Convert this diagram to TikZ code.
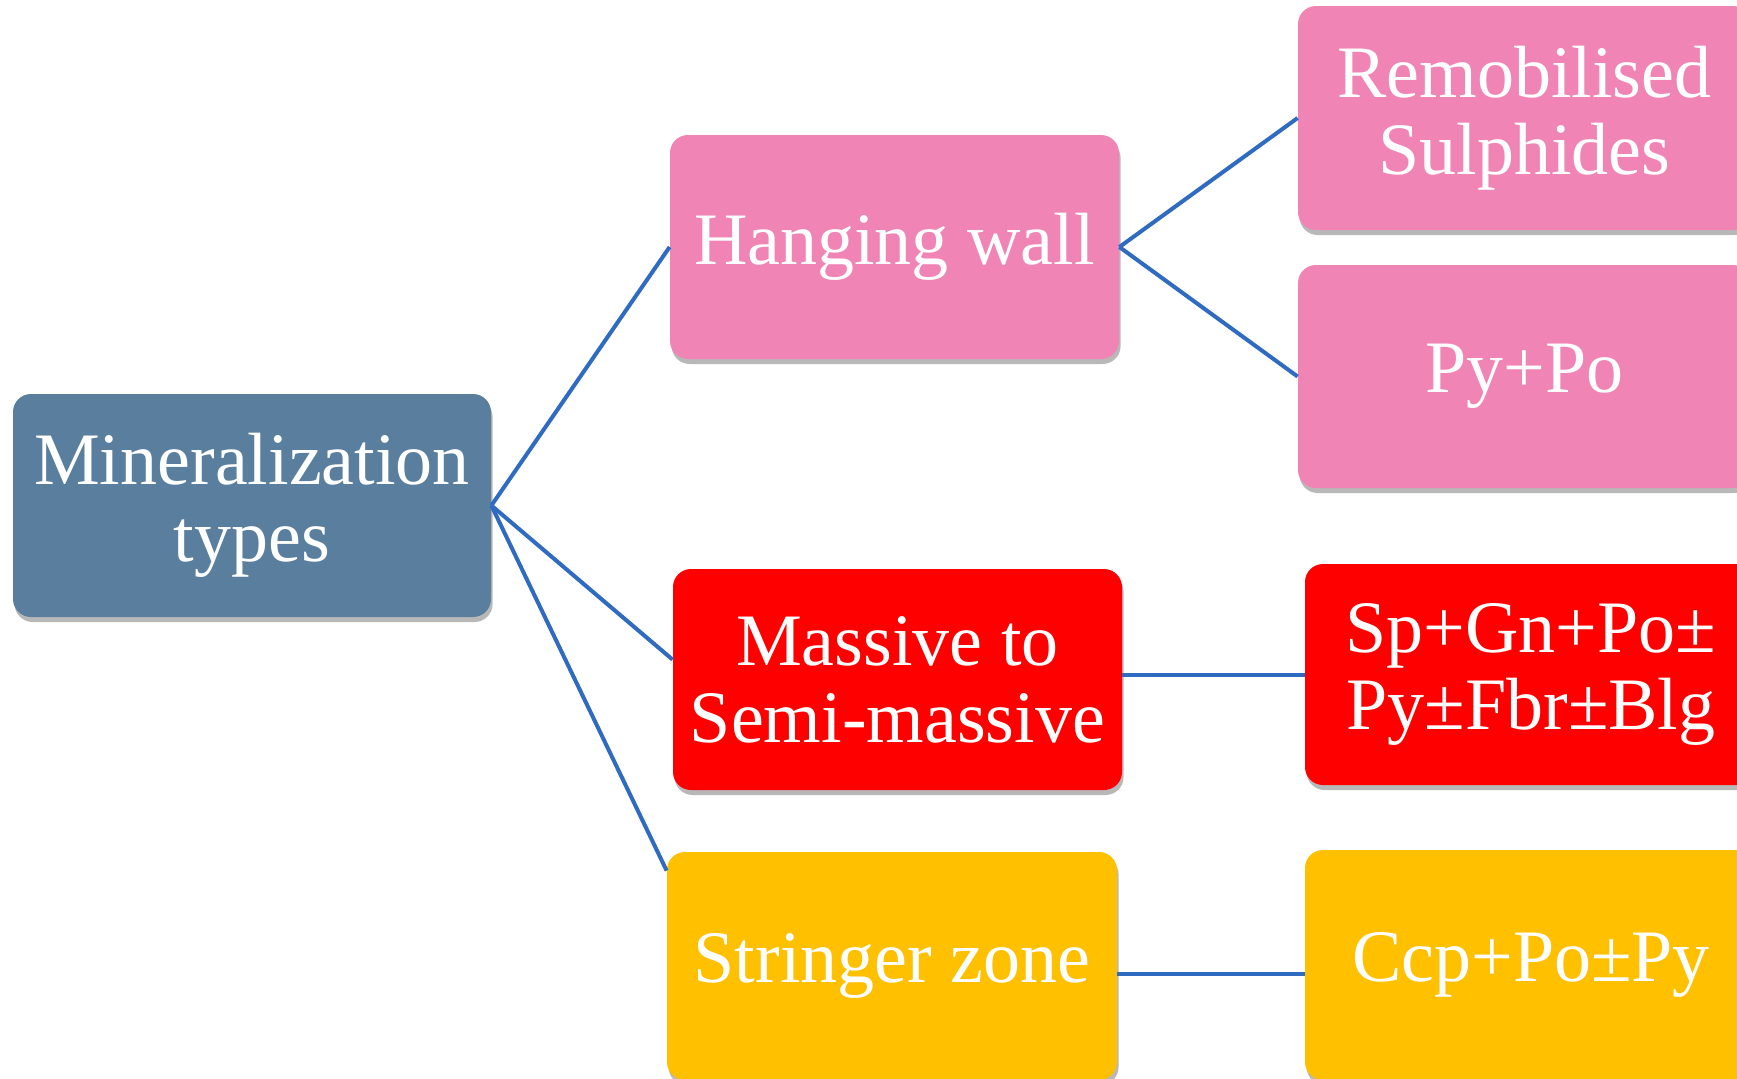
\documentclass[tikz,border=0pt]{standalone}
\usepackage{fontspec}
\setmainfont{Liberation Serif}
\usetikzlibrary{calc,shadows}
\definecolor{rootc}{RGB}{90,126,158}
\definecolor{pinkc}{RGB}{240,133,181}
\definecolor{redc}{RGB}{255,0,0}
\definecolor{yelc}{RGB}{255,192,0}
\definecolor{linec}{RGB}{47,107,192}
\begin{document}
\begin{tikzpicture}[x=0.5pt,y=-0.5pt,
  box/.style={rectangle, rounded corners=9pt, text=white, align=center,
    font=\fontsize{37}{38.5}\selectfont, inner sep=0pt,
    drop shadow={shadow xshift=0.8pt, shadow yshift=-2.5pt, opacity=0.28, fill=black}},
  link/.style={draw=linec, line width=2pt}]
\useasboundingbox (0,0) rectangle (1737,1078);
\fill[white] (0,0) rectangle (1737,1078);
\clip (0,0) rectangle (1737,1078);

\node[box, fill=rootc, minimum width=239pt, minimum height=111.5pt] (root) at (252,505.5) {Mineralization\\types};
\node[box, fill=pinkc, minimum width=224.5pt, minimum height=112pt] (hw) at (894.5,247) {Hanging wall};
\node[box, fill=pinkc, minimum width=226.5pt, minimum height=112pt] (rem) at (1524.5,118) {Remobilised\\Sulphides};
\node[box, fill=pinkc, minimum width=226.5pt, minimum height=111.5pt] (pypo) at (1524.5,376.5) {Py+Po};
\node[box, fill=redc, minimum width=224.5pt, minimum height=110.5pt] (mas) at (897.5,679.5) {Massive to\\Semi-massive};
\node[box, fill=redc, minimum width=226pt, minimum height=110.5pt] (sp) at (1531,674.5) {Sp+Gn+Po±\\Py±Fbr±Blg};
\node[box, fill=yelc, minimum width=225pt, minimum height=114pt] (str) at (892,966) {Stringer zone};
\node[box, fill=yelc, minimum width=226pt, minimum height=115pt] (ccp) at (1531,965) {Ccp+Po±Py};

\draw[link] (root.east) -- (hw.west);
\draw[link] (root.east) -- ($(mas.north west)+(0,91)$);
\draw[link] (root.east) -- ($(str.north west)+(0,19)$);
\draw[link] (hw.east) -- (rem.west);
\draw[link] (hw.east) -- (pypo.west);
\draw[link] (mas.east |- sp.west) -- (sp.west);
\draw[link] ($(str.east)+(0,8)$) -- ($(ccp.west)+(0,9)$);
\end{tikzpicture}
\end{document}
